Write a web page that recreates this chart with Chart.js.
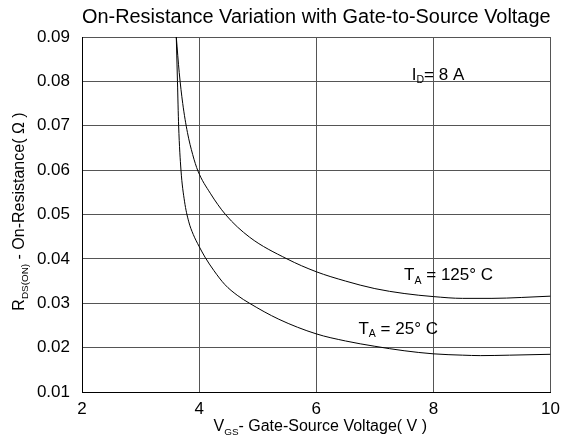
<!DOCTYPE html>
<html>
<head>
<meta charset="utf-8">
<script src="https://cdn.jsdelivr.net/npm/chart.js@4.4.0/dist/chart.umd.min.js"></script>
<style>
  html, body { margin: 0; padding: 0; background: #fff; }
  #wrap { width: 567px; height: 440px; }
</style>
</head>
<body>
<div id="wrap"><canvas id="myChart" width="567" height="440"></canvas></div>
<script>
// values
const vgs25  = [3.61, 3.63, 3.65, 3.69, 3.75, 3.82, 3.90, 4.0, 4.1, 4.25, 4.44, 4.65, 4.86, 5.36, 6.0, 6.5, 7.0, 7.5, 8.0, 8.5, 8.8, 9.3, 10];
const rds25  = [0.09, 0.08, 0.07, 0.06, 0.053, 0.0485, 0.0455, 0.0428, 0.0404, 0.0374, 0.0342, 0.0318, 0.030, 0.0264, 0.0231, 0.0215, 0.0203, 0.0193, 0.0186, 0.0183, 0.0182, 0.0183, 0.0185];
const vgs125 = [3.61, 3.66, 3.72, 3.80, 3.89, 3.98, 4.19, 4.45, 4.86, 5.5, 6.0, 6.5, 7.0, 7.5, 8.0, 8.5, 9.0, 9.5, 10];
const rds125 = [0.09, 0.082, 0.075, 0.0685, 0.0635, 0.0598, 0.0548, 0.05, 0.0449, 0.04, 0.0371, 0.035, 0.0333, 0.0322, 0.0315, 0.0311, 0.0311, 0.0313, 0.0316];

const xMin = 2, xMax = 10, xStep = 2;
const yMin = 0.01, yMax = 0.09, yStep = 0.01;

const FONT = "'Liberation Sans', Arial, sans-serif";

// text notes, anchored in data coordinates; [text, isSubscript]
const notes = [
  { x: 7.63, y: 0.0814, parts: [['I'], ['D', 1], ['= 8 A']] },
  { x: 7.5,  y: 0.0362, parts: [['T'], ['A', 1], [' = 125° C']] },
  { x: 6.72, y: 0.0242, parts: [['T'], ['A', 1], [' = 25° C']] }
];

function pts(xs, ys) {
  return xs.map((v, i) => ({ x: v, y: ys[i] }));
}

function drawRich(ctx, parts, x, y, size, align) {
  let w = 0;
  parts.forEach(p => {
    ctx.font = (p[1] ? size * 0.62 : size) + 'px ' + FONT;
    w += ctx.measureText(p[0]).width;
  });
  let cx = align === 'center' ? x - w / 2 : x;
  parts.forEach(p => {
    const s = p[1] ? size * 0.62 : size;
    ctx.font = s + 'px ' + FONT;
    ctx.fillText(p[0], cx, p[1] ? y + size * 0.3 : y);
    cx += ctx.measureText(p[0]).width;
  });
}

const textPlugin = {
  id: 'textPlugin',
  afterDraw(chart) {
    const { ctx, chartArea, scales } = chart;
    ctx.save();
    ctx.fillStyle = '#000';
    ctx.textBaseline = 'middle';
    ctx.textAlign = 'left';

    notes.forEach(n => {
      drawRich(ctx, n.parts, scales.x.getPixelForValue(n.x), scales.y.getPixelForValue(n.y), 17, 'left');
    });

    // x axis title
    drawRich(ctx, [['V'], ['GS', 1], ['- Gate-Source Voltage( V )']],
      (chartArea.left + chartArea.right) / 2 + 4, 427, 16, 'center');

    // y axis title
    ctx.translate(20, (chartArea.top + chartArea.bottom) / 2 - 3);
    ctx.rotate(-Math.PI / 2);
    drawRich(ctx, [['R'], ['DS(ON)', 1], [' - On-Resistance( Ω )']], 0, 0, 16, 'center');
    ctx.restore();
  }
};

const data = {
  datasets: [{
    label: 'TA = 25° C',
    data: pts(vgs25, rds25),
    borderColor: '#000',
    borderWidth: 1,
    pointRadius: 0,
    cubicInterpolationMode: 'monotone'
  }, {
    label: 'TA = 125° C',
    data: pts(vgs125, rds125),
    borderColor: '#000',
    borderWidth: 1,
    pointRadius: 0,
    cubicInterpolationMode: 'monotone'
  }]
};

const config = {
  type: 'line',
  data: data,
  options: {
    responsive: false,
    animation: false,
    layout: { padding: { left: 0, right: 16, top: 0, bottom: 0 } },
    plugins: {
      legend: { display: false },
      tooltip: { enabled: false },
      title: {
        display: true,
        text: 'On-Resistance Variation with Gate-to-Source Voltage',
        fullSize: false,
        color: '#000',
        font: { family: FONT, size: 20, weight: 'normal' },
        padding: { top: 5, bottom: 8 }
      }
    },
    scales: {
      x: {
        type: 'linear',
        min: xMin,
        max: xMax,
        afterFit: s => { s.height = 48; },
        ticks: { stepSize: xStep, color: '#000', padding: 7, font: { family: FONT, size: 17 } },
        grid: { color: '#555', drawTicks: false },
        border: { color: '#000' }
      },
      y: {
        min: yMin,
        max: yMax,
        afterFit: s => { s.width = 82; },
        ticks: {
          stepSize: yStep,
          color: '#000',
          padding: 12,
          font: { family: FONT, size: 17 },
          callback: v => v.toFixed(2)
        },
        grid: { color: '#555', drawTicks: false },
        border: { color: '#000' }
      }
    }
  },
  plugins: [textPlugin]
};

new Chart(document.getElementById('myChart'), config);
</script>
</body>
</html>
